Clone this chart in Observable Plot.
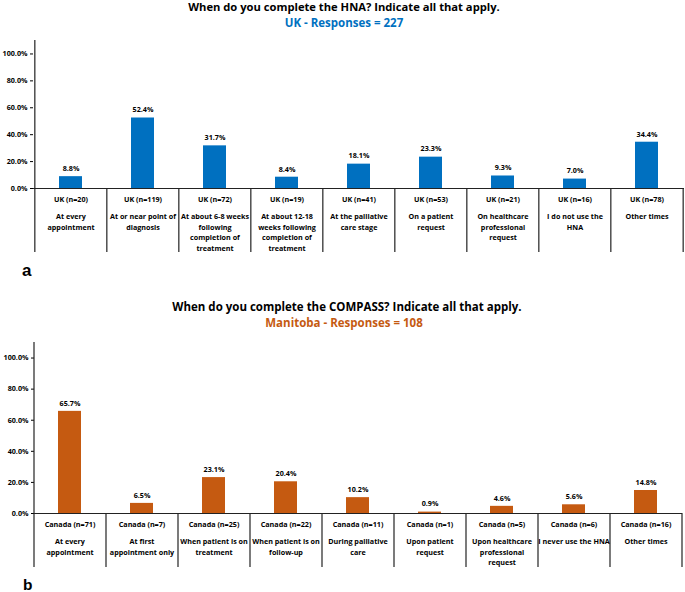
<!DOCTYPE html>
<html><head><meta charset="utf-8">
<script src="https://cdn.jsdelivr.net/npm/d3@7"></script>
<script src="https://cdn.jsdelivr.net/npm/@observablehq/plot@0.6"></script>
<style>
body{margin:0;background:#fff;}
#fig{position:relative;width:685px;height:592px;overflow:hidden;background:#fff;font-family:"Open Sans",sans-serif;}
.p{position:absolute;left:0;}
#over{position:absolute;left:0;top:0;pointer-events:none;}
</style></head>
<body><div id="fig">
<div class="p" id="pa" style="top:30px"></div>
<div class="p" id="pb" style="top:330px"></div>
<svg id="over" width="685" height="592" font-weight="bold">
  <text x="344" y="10.6" text-anchor="middle" font-family="Open Sans" font-size="11.2" fill="#000">When do you complete the HNA? Indicate all that apply.</text>
  <text x="344" y="26.5" text-anchor="middle" font-family="Open Sans" font-size="11.5" fill="#0070C0">UK - Responses = 227</text>
  <text x="22" y="276" font-family="Liberation Sans" font-size="17" fill="#000">a</text>
  <text x="347" y="311" text-anchor="middle" font-family="Open Sans" font-size="11.5" fill="#000">When do you complete the COMPASS? Indicate all that apply.</text>
  <text x="344" y="327" text-anchor="middle" font-family="Open Sans" font-size="11.5" fill="#C55A11">Manitoba - Responses = 108</text>
  <text x="23" y="590" font-family="Liberation Sans" font-size="15.5" fill="#000">b</text>
</svg>
</div>
<script>
const FONT = "Open Sans, sans-serif";
const ukCategories = ["UK (n=20)","UK (n=119)","UK (n=72)","UK (n=19)","UK (n=41)","UK (n=53)","UK (n=21)","UK (n=16)","UK (n=78)"];
const ukDescriptions = ["At every\nappointment","At or near point of\ndiagnosis","At about 6-8 weeks\nfollowing\ncompletion of\ntreatment","At about 12-18\nweeks following\ncompletion of\ntreatment","At the palliative\ncare stage","On a patient\nrequest","On healthcare\nprofessional\nrequest","I do not use the\nHNA","Other times"];
const ukValues = [8.8,52.4,31.7,8.4,18.1,23.3,9.3,7.0,34.4];

const caCategories = ["Canada (n=71)","Canada (n=7)","Canada (n=25)","Canada (n=22)","Canada (n=11)","Canada (n=1)","Canada (n=5)","Canada (n=6)","Canada (n=16)"];
const caDescriptions = ["At every\nappointment","At first\nappointment only","When patient is on\ntreatment","When patient is on\nfollow-up","During palliative\ncare","Upon patient\nrequest","Upon healthcare\nprofessional\nrequest","I never use the HNA","Other times"];
const caValues = [65.7,6.5,23.1,20.4,10.2,0.9,4.6,5.6,14.8];

const yTicks = [0,20,40,60,80,100];

function panel(cats, descs, vals, color, o) {
  const data = cats.map((c,i)=>({cat:c, desc:descs[i], v:vals[i]}));
  const width = 685;
  const step = (width - o.ml - o.mr) / cats.length;
  const line = "#222";
  const fs = 7.2;
  return Plot.plot({
    width, height: o.height, marginTop: o.mt, marginBottom: o.mb, marginLeft: o.ml, marginRight: o.mr,
    style: {fontFamily: FONT, fontWeight: "bold", fontSize: fs + "px", color: "#000", background: "white", overflow: "visible"},
    x: {domain: cats, paddingInner: 0.68, paddingOuter: 0.34, axis: null},
    y: {domain: [0,110], ticks: yTicks, tickFormat: d => d.toFixed(1) + "%", tickSize: 3, tickPadding: 3, label: null},
    marks: [
      Plot.barY(data, {x: "cat", y: "v", fill: color}),
      Plot.text(data, {x: "cat", y: "v", text: d => d.v.toFixed(1) + "%", dy: -8, fontSize: fs, fontWeight: "bold", fill: "#000"}),
      Plot.ruleX([cats[0]], {x: d => d, dx: -step/2, stroke: line, strokeWidth: 1.2}),
      Plot.ruleX(cats, {x: d => d, dx: -step/2, y1: 0, y2: 0, insetBottom: -o.ext, stroke: line, strokeWidth: 1.2}),
      Plot.ruleX([cats[cats.length-1]], {x: d => d, dx: step/2, y1: 0, y2: 0, insetBottom: -o.ext, stroke: line, strokeWidth: 1.2}),
      Plot.ruleY([0], {stroke: line, strokeWidth: 1.2}),
      Plot.text(data, {x: "cat", frameAnchor: "bottom", text: "cat", dy: 11, lineAnchor: "middle", fontSize: fs, fontWeight: "bold", fill: "#000"}),
      Plot.text(data, {x: "cat", frameAnchor: "bottom", text: "desc", dy: 23.5, lineAnchor: "top", lineHeight: 1.46, fontSize: fs, fontWeight: "bold", fill: "#000"})
    ]
  });
}

document.getElementById("pa").appendChild(panel(ukCategories, ukDescriptions, ukValues, "#0070C0", {height: 230, mt: 10, mb: 72, ml: 33, mr: 1, ext: 64}));
document.getElementById("pb").appendChild(panel(caCategories, caDescriptions, caValues, "#C55A11", {height: 245, mt: 12, mb: 62, ml: 34, mr: 3, ext: 54}));
</script>
</body></html>
